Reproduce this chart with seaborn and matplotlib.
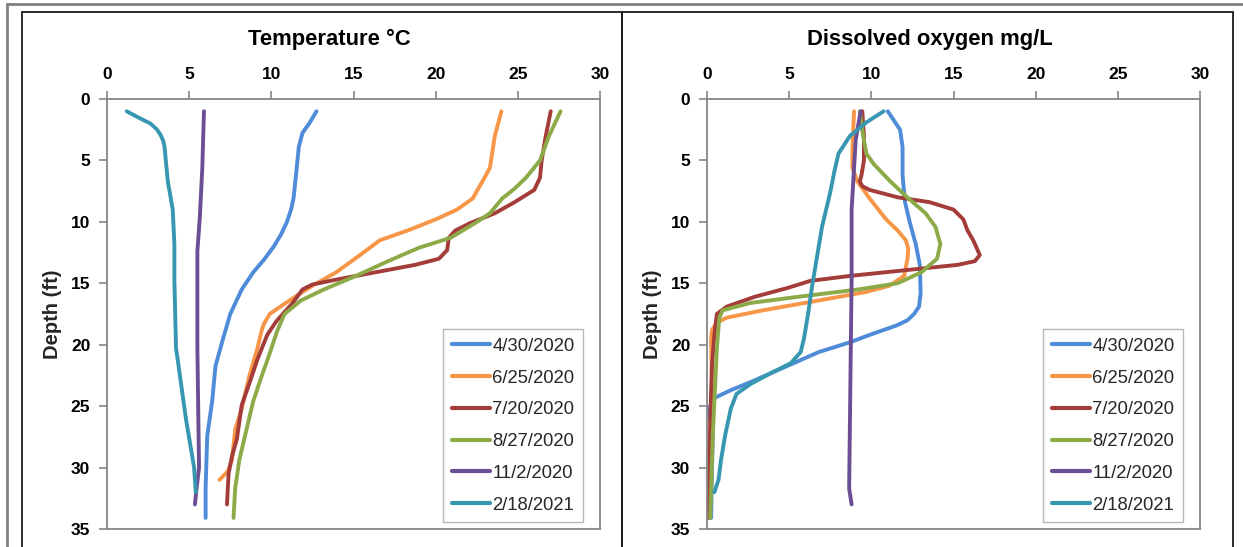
import matplotlib
matplotlib.use("Agg")
import matplotlib.pyplot as plt
from matplotlib.lines import Line2D
from matplotlib.patches import Rectangle
import seaborn as sns
import pandas as pd

# ---------------- data ----------------
dates = ["4/30/2020", "6/25/2020", "7/20/2020", "8/27/2020", "11/2/2020", "2/18/2021"]
colors = ["#4E8BD8", "#F79646", "#A43D3A", "#8CAB48", "#6B4E93", "#3797B1"]
x_ticks = [0, 5, 10, 15, 20, 25, 30]
y_ticks = [0, 5, 10, 15, 20, 25, 30, 35]

# Temperature (deg C) profiles: depth (ft), value
t_d_0430 = [1, 2.0, 2.75, 3.9, 6.2, 8.1, 9, 10, 11, 12, 13, 14.1, 15.5, 17.5, 19.8, 21.75, 24.6, 27.4, 31.7, 34.1]
t_v_0430 = [12.75, 12.3, 11.9, 11.67, 11.5, 11.35, 11.2, 10.95, 10.6, 10.15, 9.6, 8.9, 8.2, 7.5, 7.0, 6.6, 6.4, 6.1, 6.0, 6.0]

t_d_0625 = [1, 3, 5.6, 6.7, 8.1, 9, 9.8, 10.7, 11.5, 12.7, 14.1, 15.2, 16.4, 17.5, 18.3, 18.9, 20.3, 22.6, 25.2, 26.9, 29.4, 30.3, 31]
t_v_0625 = [24.0, 23.6, 23.3, 22.85, 22.25, 21.3, 20.0, 18.3, 16.6, 15.4, 13.95, 12.5, 11.1, 9.9, 9.55, 9.4, 9.15, 8.65, 8.2, 7.8, 7.6, 7.35, 6.85]

t_d_0720 = [1, 3, 5, 6.4, 7.4, 8.4, 9.3, 10.1, 10.7, 11.3, 12.3, 13, 13.5, 14.1, 14.7, 15.1, 15.5, 16.6, 18.1, 19.2, 21.2, 23.2, 24.9, 27.7, 29.1, 30.5, 33]
t_v_0720 = [27.0, 26.7, 26.45, 26.35, 26.0, 24.8, 23.6, 22.1, 21.2, 20.8, 20.7, 20.2, 18.75, 16.35, 13.95, 12.5, 11.9, 11.3, 10.3, 9.75, 9.15, 8.65, 8.2, 7.9, 7.6, 7.4, 7.3]

t_d_0827 = [1, 3, 5, 6.4, 7.3, 8.1, 9.3, 10.1, 11.3, 12.1, 13.2, 14.4, 15.5, 16.4, 17.5, 18.9, 20.9, 22.6, 24.6, 27.4, 29.4, 31.7, 34.1]
t_v_0827 = [27.6, 26.9, 26.35, 25.5, 24.8, 24.05, 23.3, 22.4, 20.9, 19.0, 17.1, 15.15, 13.2, 11.8, 10.8, 10.35, 9.85, 9.4, 8.9, 8.4, 8.05, 7.8, 7.7]

t_d_1102 = [1, 5.6, 9.6, 12.4, 20.3, 30, 31.7, 33]
t_v_1102 = [5.9, 5.8, 5.65, 5.5, 5.5, 5.6, 5.45, 5.35]

t_d_0218 = [1, 1.5, 2, 2.5, 2.9, 3.4, 3.9, 6.7, 9, 11.8, 14.7, 20.3, 21.2, 26, 30, 32]
t_v_0218 = [1.2, 1.9, 2.65, 3.05, 3.25, 3.42, 3.5, 3.7, 4.0, 4.1, 4.1, 4.2, 4.3, 4.8, 5.3, 5.4]

# Dissolved oxygen (mg/L) profiles: depth (ft), value
o_d_0430 = [1, 1.8, 2.5, 3.9, 6.2, 8.4, 10.1, 11.8, 13.5, 15.8, 16.9, 17.5, 18.0, 18.4, 19.2, 19.8, 20.6, 21.75, 22.9, 23.7, 24.3, 25.2, 27.4, 30.3, 34.1]
o_v_0430 = [11.0, 11.4, 11.75, 11.9, 11.9, 12.05, 12.35, 12.7, 12.95, 13.0, 12.9, 12.6, 12.2, 11.6, 9.9, 8.7, 6.8, 4.85, 2.9, 1.45, 0.5, 0.1, 0.35, 0.3, 0.25]

o_d_0625 = [1, 3.9, 5.6, 6.7, 8.1, 9.8, 10.7, 11.5, 12.2, 13, 14.4, 15.2, 15.7, 16.4, 17.2, 17.8, 18.2, 18.8, 19.5, 23.2, 27.4, 31]
o_v_0625 = [8.95, 8.85, 8.85, 9.15, 9.9, 10.9, 11.6, 12.1, 12.25, 12.2, 12.0, 11.1, 9.7, 6.8, 3.4, 1.2, 0.6, 0.3, 0.25, 0.3, 0.2, 0.05]

o_d_0720 = [1, 3, 5, 6.2, 6.7, 7.1, 7.4, 8, 8.4, 9, 9.8, 10.7, 11.5, 12.7, 13.2, 13.5, 14.0, 14.4, 14.8, 15.4, 16.1, 16.9, 17.5, 19.2, 21.75, 26, 34.1]
o_v_0720 = [9.45, 9.55, 9.55, 9.4, 9.3, 9.45, 9.9, 11.6, 13.55, 15.0, 15.6, 15.85, 16.2, 16.6, 16.3, 15.25, 11.6, 8.7, 6.3, 4.85, 2.9, 1.2, 0.6, 0.45, 0.3, 0.2, 0.1]

o_d_0827 = [1, 3, 4.45, 5.3, 6.7, 7.9, 9.3, 10.4, 11.8, 13, 14.1, 15, 15.5, 16.1, 16.6, 17.2, 17.8, 20.3, 23.2, 27.4, 34.1]
o_v_0827 = [9.3, 9.5, 9.7, 10.15, 11.15, 12.1, 13.3, 13.9, 14.2, 14.0, 13.05, 11.6, 9.2, 5.55, 2.65, 0.95, 0.75, 0.6, 0.5, 0.35, 0.2]

o_d_1102 = [1, 3.3, 9, 14.7, 20.3, 26, 31.7, 33]
o_v_1102 = [9.35, 9.05, 8.8, 8.8, 8.75, 8.7, 8.65, 8.8]

o_d_0218 = [1, 1.9, 3, 4.45, 5.9, 7.6, 10.4, 13.2, 15.2, 17.5, 19.5, 20.6, 21.5, 22.3, 23.2, 24, 25.2, 27.4, 29.4, 31, 32]
o_v_0218 = [10.75, 9.7, 8.7, 8.0, 7.75, 7.5, 7.0, 6.65, 6.4, 6.15, 5.9, 5.7, 5.1, 3.9, 2.65, 1.8, 1.45, 1.1, 0.85, 0.7, 0.45]

temp_series = [(t_d_0430, t_v_0430), (t_d_0625, t_v_0625), (t_d_0720, t_v_0720),
               (t_d_0827, t_v_0827), (t_d_1102, t_v_1102), (t_d_0218, t_v_0218)]
do_series = [(o_d_0430, o_v_0430), (o_d_0625, o_v_0625), (o_d_0720, o_v_0720),
             (o_d_0827, o_v_0827), (o_d_1102, o_v_1102), (o_d_0218, o_v_0218)]


def to_frame(series):
    rows = []
    for date, (d, v) in zip(dates, series):
        for i, (dd, vv) in enumerate(zip(d, v)):
            rows.append({"date": date, "depth": dd, "value": vv, "order": i})
    return pd.DataFrame(rows)


df_t = to_frame(temp_series)
df_o = to_frame(do_series)

# ---------------- styling ----------------
sns.set_theme(style="white")
plt.rcParams["font.family"] = ["Liberation Sans", "DejaVu Sans"]

W, H = 1243, 547
fig = plt.figure(figsize=(W / 100, H / 100), dpi=100)
fig.patch.set_facecolor("white")

# frames
fig.patches.append(Rectangle((7 / W, -0.1), 1.2, (H - 4) / H + 0.1, transform=fig.transFigure,
                             fill=False, edgecolor="#808080", linewidth=2.0, zorder=0))
fig.patches.append(Rectangle((22 / W, -0.1), (622 - 22) / W, (H - 12) / H + 0.1, transform=fig.transFigure,
                             fill=False, edgecolor="#1a1a1a", linewidth=1.3, zorder=0))
fig.patches.append(Rectangle((622 / W, -0.1), (1233 - 622) / W, (H - 12) / H + 0.1, transform=fig.transFigure,
                             fill=False, edgecolor="#1a1a1a", linewidth=1.3, zorder=0))

palette = dict(zip(dates, colors))
ax_w = 493 / W
ax_h = 430 / H
ax_b = 1 - 529 / H
axes_specs = [
    (107 / W, df_t, "Temperature °C", 329),
    (707 / W, df_o, "Dissolved oxygen mg/L", 930),
]
grey = "#868686"

for left, df, title, tx in axes_specs:
    ax = fig.add_axes([left, ax_b, ax_w, ax_h])
    sns.lineplot(data=df, x="value", y="depth", hue="date", palette=palette,
                 sort=False, estimator=None, units="date", orient="y",
                 linewidth=2.8, legend=False, ax=ax)
    for ln in ax.lines:
        ln.set_solid_capstyle("round")
        ln.set_solid_joinstyle("round")
    ax.set_xlim(0, 30)
    ax.set_ylim(35, 0)
    ax.set_xticks(x_ticks)
    ax.set_yticks(y_ticks)
    ax.xaxis.tick_top()
    ax.tick_params(axis="both", direction="out", length=6, width=1.2, color=grey,
                   labelsize=12.5, pad=6)
    ax.tick_params(axis="x", top=True, bottom=False)
    ax.tick_params(axis="y", left=True, right=False)
    for lab in ax.get_xticklabels() + ax.get_yticklabels():
        lab.set_fontweight("bold")
        lab.set_color("black")
    for sp in ax.spines.values():
        sp.set_visible(True)
        sp.set_color(grey)
        sp.set_linewidth(1.3)
    ax.set_xlabel("")
    ax.set_ylabel("Depth (ft)", fontsize=14.5, fontweight="bold", labelpad=6)
    ax.grid(False)

    handles = [Line2D([0], [0], color=c, lw=3, solid_capstyle="round") for c in colors]
    right_px = (left * W) + 493 - 17
    leg = ax.legend(handles, dates, loc="lower right",
                    bbox_to_anchor=(right_px / W, 1 - 522 / H), bbox_transform=fig.transFigure,
                    borderaxespad=0, fontsize=13.3, handlelength=2.05, handletextpad=0.15,
                    labelspacing=0.8, borderpad=0.45, frameon=True, fancybox=False)
    leg.get_frame().set_edgecolor("#A6A6A6")
    leg.get_frame().set_linewidth(1.0)

    fig.text(tx / W, 1 - 39 / H, title, ha="center", va="center",
             fontsize=15.8, fontweight="bold", color="black")

fig.savefig("out.png", dpi=100)
